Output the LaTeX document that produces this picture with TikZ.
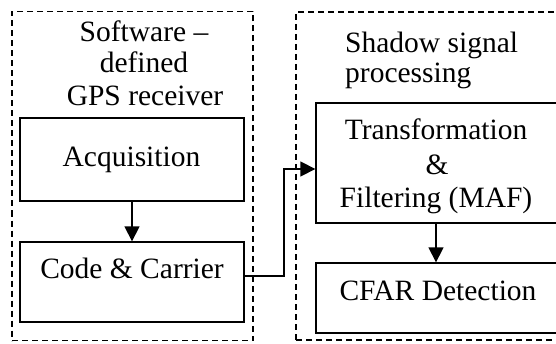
\documentclass[tikz,border=0pt]{standalone}
\usepackage{fontspec}
\setmainfont{Liberation Serif}
\usetikzlibrary{arrows.meta}
\begin{document}
\begin{tikzpicture}[x=1pt,y=1pt,
  box/.style={draw, line width=1.3pt, inner sep=0pt},
  grp/.style={draw, line width=1.2pt, dash pattern=on 6pt off 4pt, inner sep=0pt},
  txt/.style={font=\fontsize{29.5}{33}\selectfont, anchor=base, inner sep=0pt},
  arr/.style={line width=1.3pt, -{Triangle[length=15pt,width=15pt]}}]
\useasboundingbox (0,0) rectangle (556,343);
\clip (0,0) rectangle (556,343);
% groups
\node[grp, minimum width=241pt, minimum height=329pt] (g1) at (132.5,167) {};
\node[grp, minimum width=300pt, minimum height=328pt] (g2) at (446,167) {};
% boxes
\node[box, minimum width=224pt, minimum height=83pt] (acq) at (132,183.5) {};
\node[box, minimum width=224pt, minimum height=80pt] (code) at (132,61) {};
\node[box, minimum width=241pt, minimum height=120pt] (trans) at (436.5,180) {};
\node[box, minimum width=241pt, minimum height=70pt] (cfar) at (436.5,45) {};
% texts
\node[txt] (t1) at (144,301) {Software --};
\node[txt] (t2) at (144,270) {defined};
\node[txt] (t3) at (145,237) {GPS receiver};
\node[txt] (t4) at (131.5,176) {Acquisition};
\node[txt] (t5) at (132,65) {Code \& Carrier};
\node[txt, anchor=base west] (t6) at (345,290) {Shadow signal};
\node[txt, anchor=base west] (t7) at (345,260) {processing};
\node[txt] (t8) at (436,203) {Transformation};
\node[txt] (t9) at (437,168) {\&};
\node[txt] (t10) at (436,136) {Filtering (MAF)};
\node[txt] (t11) at (438,43) {CFAR Detection};
% connectors
\coordinate (c1) at (code.east |- 0,67);
\coordinate (c2) at (284,67);
\coordinate (c3) at (284,174);
\draw[arr] (acq.south) -- (code.north);
\draw[arr] (trans.south -| 436,0) -- (cfar.north -| 436,0);
\draw[arr] (c1) -- (c2) -- (c3) -- (trans.west |- c3);
\end{tikzpicture}
\end{document}
